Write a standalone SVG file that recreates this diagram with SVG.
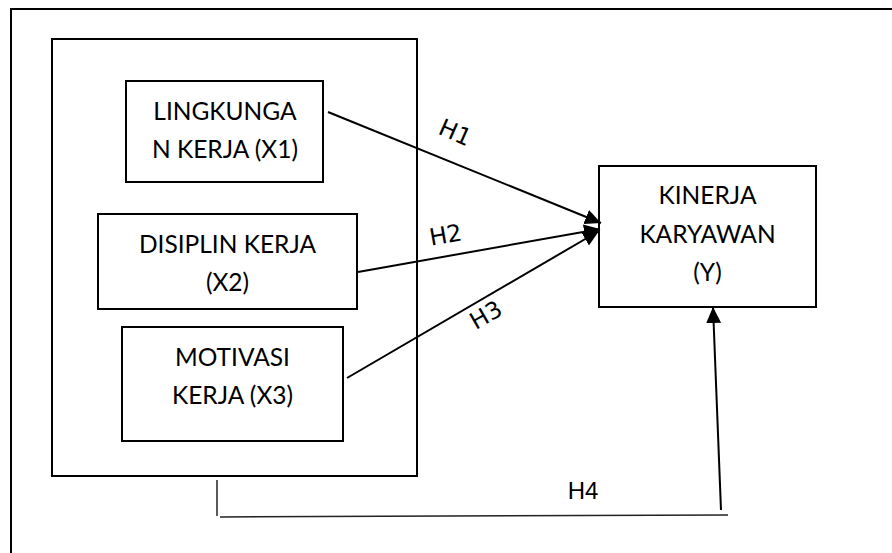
<svg xmlns="http://www.w3.org/2000/svg" width="892" height="553" viewBox="0 0 892 553">
  <style>
    .box { fill: #ffffff; stroke: #000000; stroke-width: 2; }
    .frame { fill: none; stroke: #000000; stroke-width: 2; }
    .lbl { font-family: Lato, "Liberation Sans", sans-serif; font-size: 24.5px; fill: #000000; text-anchor: middle; }
    .hyp { font-family: "DejaVu Sans", sans-serif; font-size: 23.5px; fill: #000000; text-anchor: middle; }
    .hyp4 { font-family: "Liberation Sans", Arial, sans-serif; font-size: 24px; fill: #000000; text-anchor: middle; }
    .link { fill: none; stroke: #000000; stroke-width: 2; }
    .thin { fill: none; stroke: #222222; stroke-width: 1.5; }
  </style>
  <defs>
    <marker id="head" markerUnits="userSpaceOnUse" markerWidth="17" markerHeight="16" refX="16" refY="7.5" orient="auto">
      <path d="M0,0 L16,7.5 L0,15 z" fill="#000000"/>
    </marker>
  </defs>

  <rect width="892" height="553" fill="#ffffff"/>

  <!-- open outer frame: top and left edges only -->
  <path class="frame" d="M11,553 L11,9 L892,9"/>

  <!-- grouping box around the independent variables -->
  <rect id="group-x" class="box" x="52" y="39" width="365" height="437"/>

  <g id="node-x1">
    <rect class="box" x="126" y="81" width="197" height="101"/>
    <text class="lbl" x="225" y="120">LINGKUNGA</text>
    <text class="lbl" x="225" y="158">N KERJA (X1)</text>
  </g>

  <g id="node-x2">
    <rect class="box" x="98" y="214" width="259" height="95"/>
    <text class="lbl" x="227.5" y="253">DISIPLIN KERJA</text>
    <text class="lbl" x="227.5" y="291">(X2)</text>
  </g>

  <g id="node-x3">
    <rect class="box" x="122" y="327" width="221" height="114"/>
    <text class="lbl" x="232.5" y="366">MOTIVASI</text>
    <text class="lbl" x="232.5" y="404">KERJA (X3)</text>
  </g>

  <g id="node-y">
    <rect class="box" x="599" y="166" width="217" height="141"/>
    <text class="lbl" x="707.5" y="204">KINERJA</text>
    <text class="lbl" x="707.5" y="243">KARYAWAN</text>
    <text class="lbl" x="707.5" y="281">(Y)</text>
  </g>

  <g id="connectors">
    <line class="link" x1="328" y1="112" x2="601" y2="223" marker-end="url(#head)"/>
    <line class="link" x1="358" y1="272" x2="600" y2="229" marker-end="url(#head)"/>
    <line class="link" x1="347" y1="378" x2="599" y2="231" marker-end="url(#head)"/>
    <path class="thin" d="M217,480 L217,516"/>
    <path class="thin" d="M220,517 L728,515"/>
    <line class="link" x1="721" y1="510" x2="713" y2="307" marker-end="url(#head)"/>

    <text class="hyp" transform="translate(452,140) rotate(24)">H1</text>
    <text class="hyp" transform="translate(447,243) rotate(-10)">H2</text>
    <text class="hyp" transform="translate(490,322) rotate(-30)">H3</text>
    <text class="hyp4" x="583" y="499">H4</text>
  </g>
</svg>
